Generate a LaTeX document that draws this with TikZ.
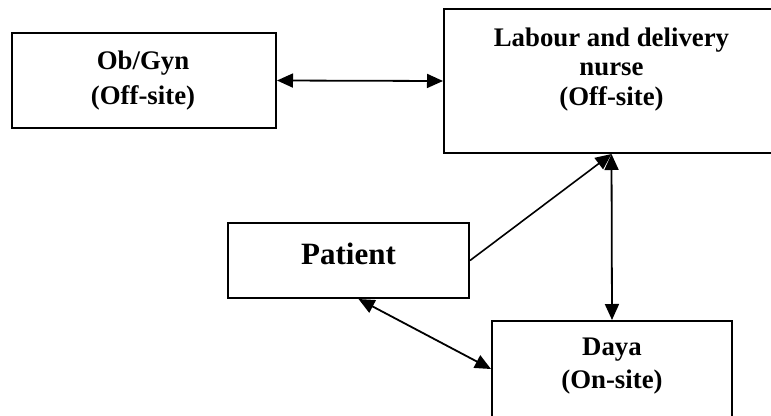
\documentclass[tikz,border=0pt]{standalone}
\usepackage{fontspec}
\setmainfont{Liberation Serif}
\usetikzlibrary{arrows.meta,calc}
\begin{document}
\begin{tikzpicture}[x=1pt,y=-1pt,
  box/.style={draw,line width=2pt,inner sep=0pt},
  lbl/.style={align=center,inner sep=0pt},
  twoway/.style={line width=1.8pt,{Triangle[length=16pt,width=14pt]}-{Triangle[length=16pt,width=14pt]}},
  oneway/.style={line width=1.6pt,-{Triangle[length=16pt,width=14pt]}}]
\useasboundingbox (0,0) rectangle (771,415);

% boxes
\node[box,minimum width=264pt,minimum height=95pt] (ob) at (144,80.5) {};
\node[box,minimum width=335pt,minimum height=144pt] (lab) at (611.5,81) {};
\node[box,minimum width=241pt,minimum height=75pt] (pat) at (348.5,260.5) {};
\node[box,minimum width=240pt,minimum height=96pt] (day) at (612,369) {};

% labels
\node[lbl,anchor=north,font=\bfseries\fontsize{26.8}{35}\selectfont] (obtxt) at (143,51) {Ob/Gyn\\(Off-site)};
\node[lbl,anchor=north,font=\bfseries\fontsize{26.8}{29.5}\selectfont] (labtxt) at (611.5,27.3) {Labour and delivery\\nurse\\(Off-site)};
\node[lbl,anchor=base,font=\bfseries\fontsize{31}{36}\selectfont] (pattxt) at (348.5,264) {Patient};
\node[lbl,anchor=north,font=\bfseries\fontsize{26.8}{33}\selectfont] (daytxt) at (612,338) {Daya\\(On-site)};

% connectors
\draw[twoway] (ob.east) -- (lab.west);
\draw[oneway] (pat.east) -- (lab.south);
\draw[twoway] (lab.south) -- (day.north);
\draw[twoway] ($(pat.south)+(10,0)$) -- (day.west);
\end{tikzpicture}
\end{document}
